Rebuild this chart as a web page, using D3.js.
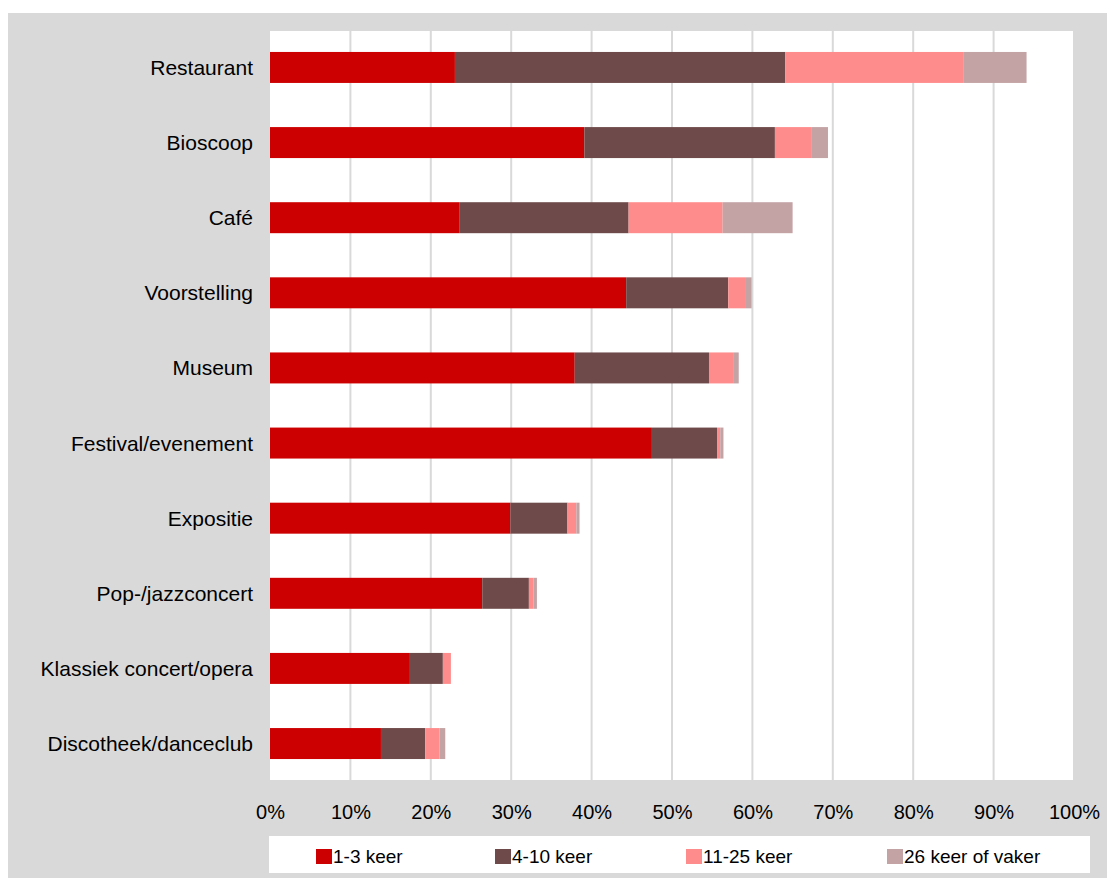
<!DOCTYPE html>
<html>
<head>
<meta charset="utf-8">
<script src="https://cdn.jsdelivr.net/npm/d3@7"></script>
<style>
  html, body { margin: 0; padding: 0; background: #ffffff; }
  svg { display: block; font-family: "Liberation Sans", Arial, sans-serif; }
</style>
</head>
<body>
<svg id="chart" width="1111" height="881"></svg>
<script>
const categories = ["Restaurant", "Bioscoop", "Café", "Voorstelling", "Museum",
  "Festival/evenement", "Expositie", "Pop-/jazzconcert", "Klassiek concert/opera", "Discotheek/danceclub"];
const seriesNames = ["1-3 keer", "4-10 keer", "11-25 keer", "26 keer of vaker"];
const s1 = [23.0, 39.1, 23.6, 44.3, 37.9, 47.5, 29.9, 26.4, 17.4, 13.8];
const s2 = [41.1, 23.7, 21.0, 12.7, 16.7, 8.1, 7.1, 5.8, 4.1, 5.5];
const s3 = [22.2, 4.6, 11.7, 2.2, 3.1, 0.4, 1.1, 0.6, 1.0, 1.8];
const s4 = [7.8, 2.0, 8.7, 0.7, 0.6, 0.4, 0.4, 0.4, 0.0, 0.7];
const colors = ["#cc0000", "#6f4a4a", "#ff8c8c", "#c4a3a5"];
const xTicks = [0, 10, 20, 30, 40, 50, 60, 70, 80, 90, 100];

const svg = d3.select("#chart");

// outer chart background
svg.append("rect").attr("x", 8).attr("y", 13).attr("width", 1099).attr("height", 865).attr("fill", "#d9d9d9");

const x = d3.scaleLinear().domain([0, 100]).range([270, 1074]);
const y = d3.scaleBand().domain(categories).range([31, 780]).paddingInner(0.5876).paddingOuter(0.279);

// plot area
svg.append("rect").attr("x", 270).attr("y", 31).attr("width", 805).attr("height", 749).attr("fill", "#ffffff");

// gridlines
svg.append("g").selectAll("line").data(xTicks.slice(1)).join("line")
  .attr("x1", d => x(d)).attr("x2", d => x(d))
  .attr("y1", 31).attr("y2", 780)
  .attr("stroke", "#d9d9d9").attr("stroke-width", 2);

// stacked data
const table = categories.map((c, i) => ({ cat: c, a: s1[i], b: s2[i], c: s3[i], d: s4[i] }));
const stack = d3.stack().keys(["a", "b", "c", "d"]);
const layers = stack(table);

svg.append("g").selectAll("g").data(layers).join("g")
  .attr("fill", (d, i) => colors[i])
  .selectAll("rect").data(d => d).join("rect")
  .attr("x", d => x(d[0]))
  .attr("width", d => Math.max(0, x(d[1]) - x(d[0])))
  .attr("y", d => y(d.data.cat))
  .attr("height", y.bandwidth());

// category labels
svg.append("g").selectAll("text").data(categories).join("text")
  .attr("x", 253)
  .attr("y", d => y(d) + y.bandwidth() / 2)
  .attr("dy", "0.36em")
  .attr("text-anchor", "end")
  .attr("font-size", 21)
  .attr("fill", "#000")
  .text(d => d);

// x axis labels
const xAxis = d3.axisBottom(x).tickValues(xTicks).tickSize(0).tickPadding(0).tickFormat(d => d + "%");
const gx = svg.append("g").attr("transform", "translate(0,805)").call(xAxis);
gx.select(".domain").remove();
gx.selectAll("text").attr("font-size", 20).attr("font-family", "Liberation Sans, Arial, sans-serif")
  .attr("fill", "#000").attr("dy", "0.71em");

// legend
svg.append("rect").attr("x", 269).attr("y", 836).attr("width", 821).attr("height", 37).attr("fill", "#ffffff");
const legendX = [316, 495, 686, 887];
const lg = svg.append("g").selectAll("g").data(seriesNames).join("g")
  .attr("transform", (d, i) => `translate(${legendX[i]},849)`);
lg.append("rect").attr("width", 16).attr("height", 15).attr("fill", (d, i) => colors[i]);
lg.append("text").attr("x", 17).attr("y", 14).attr("font-size", 19).attr("fill", "#000").text(d => d);
</script>
</body>
</html>
